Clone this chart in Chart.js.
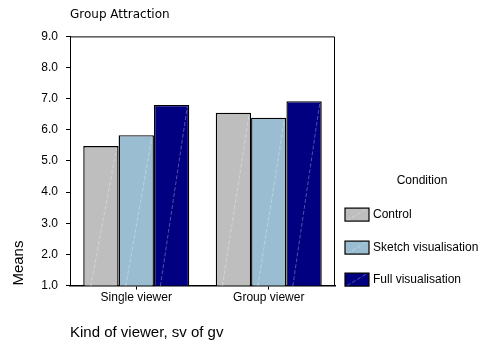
<!DOCTYPE html>
<html>
<head>
<meta charset="utf-8">
<script src="https://cdn.jsdelivr.net/npm/chart.js@4"></script>
<style>
  html, body { margin: 0; padding: 0; background: #fff; }
  #wrap { width: 481px; height: 345px; }
</style>
</head>
<body>
<div id="wrap"><canvas id="barChart"></canvas></div>
<script>
const categories = ['Single viewer', 'Group viewer'];
const conditions = ['Control', 'Sketch visualisation', 'Full visualisation'];
const controlMeans = [5.48, 6.55];
const sketchMeans = [5.83, 6.39];
const fullMeans = [6.80, 6.92];
const yTicks = [1, 2, 3, 4, 5, 6, 7, 8, 9];

const colors = ['#bebebe', '#9bbdd2', '#000080'];
const font = "'Liberation Sans', Arial, sans-serif";

// box round the plot area (top and right sides)
const frame = {
  id: 'frame',
  afterDraw(chart) {
    const a = chart.chartArea, ctx = chart.ctx;
    ctx.save();
    ctx.strokeStyle = '#000';
    ctx.lineWidth = 1;
    ctx.beginPath();
    ctx.moveTo(a.left, a.top + 0.5);
    ctx.lineTo(a.right - 0.5, a.top + 0.5);
    ctx.lineTo(a.right - 0.5, a.bottom);
    ctx.stroke();
    ctx.restore();
  }
};

// faint dashed diagonal inside each bar
function diagonal(ctx, x0, y0, x1, y1) {
  ctx.save();
  ctx.strokeStyle = 'rgba(255,255,255,0.4)';
  ctx.lineWidth = 0.8;
  ctx.setLineDash([4, 2]);
  ctx.beginPath();
  ctx.moveTo(x0, y0);
  ctx.lineTo(x1, y1);
  ctx.stroke();
  ctx.restore();
}

const hatch = {
  id: 'hatch',
  afterDatasetsDraw(chart) {
    chart.data.datasets.forEach((ds, i) => {
      chart.getDatasetMeta(i).data.forEach(bar => {
        const p = bar.getProps(['x', 'y', 'base', 'width'], true);
        diagonal(chart.ctx, p.x - p.width / 2 + 2, p.base - 1, p.x + p.width / 2 - 2, p.y + 2);
      });
    });
  }
};

// legend on the right, bottom aligned with the plot
const sideLegend = {
  id: 'sideLegend',
  afterDraw(chart) {
    const a = chart.chartArea, ctx = chart.ctx;
    ctx.save();
    ctx.fillStyle = '#000';
    ctx.font = '12px ' + font;
    ctx.textBaseline = 'middle';
    ctx.textAlign = 'center';
    ctx.fillText('Condition', a.right + 87, a.bottom - 105);
    const offsets = [-71, -38, -6];
    chart.data.datasets.forEach((ds, i) => {
      const cy = a.bottom + offsets[i];
      const bx = a.right + 10;
      ctx.fillStyle = ds.backgroundColor;
      ctx.fillRect(bx, cy - 6.5, 24, 13);
      diagonal(ctx, bx + 2, cy + 6, bx + 22, cy - 6);
      ctx.strokeStyle = '#000';
      ctx.lineWidth = 1.2;
      ctx.strokeRect(bx, cy - 6.5, 24, 13);
      ctx.fillStyle = '#000';
      ctx.textAlign = 'left';
      ctx.fillText(ds.label, a.right + 38, cy);
    });
    ctx.restore();
  }
};

const series = [controlMeans, sketchMeans, fullMeans];

new Chart(document.getElementById('barChart'), {
  type: 'bar',
  data: {
    labels: categories,
    datasets: conditions.map((name, i) => ({
      label: name,
      data: series[i],
      backgroundColor: colors[i],
      borderColor: '#000',
      borderWidth: 1.4,
      categoryPercentage: 0.8,
      barPercentage: 1.0
    }))
  },
  options: {
    responsive: true,
    maintainAspectRatio: false,
    animation: false,
    layout: { padding: { top: 6, left: 6, right: 146, bottom: 3 } },
    plugins: {
      legend: { display: false },
      tooltip: { enabled: false },
      title: {
        display: true,
        text: 'Group Attraction',
        align: 'start',
        fullSize: false,
        color: '#000',
        font: { family: "'DejaVu Sans', sans-serif", size: 12, weight: 'normal' },
        padding: { top: 2, bottom: 14 }
      }
    },
    scales: {
      x: {
        offset: true,
        grid: { display: true, drawOnChartArea: false, offset: false, tickLength: 4, color: '#000' },
        border: { display: true, color: '#000', width: 1.5 },
        ticks: { color: '#000', padding: 1, font: { family: font, size: 12 } },
        title: {
          display: true,
          text: 'Kind of viewer, sv of gv',
          align: 'start',
          color: '#000',
          font: { family: font, size: 15 },
          padding: { top: 18, bottom: 0 }
        }
      },
      y: {
        min: 1,
        max: 9,
        afterFit(scale) { scale.width = 64; },
        afterBuildTicks(scale) { scale.ticks = yTicks.map(v => ({ value: v })); },
        grid: { display: true, drawOnChartArea: false, tickLength: 4, color: '#000' },
        border: { display: true, color: '#000', width: 1 },
        ticks: {
          color: '#000',
          padding: 8,
          font: { family: font, size: 12 },
          callback: v => Number(v).toFixed(1)
        },
        title: {
          display: true,
          text: 'Means',
          align: 'start',
          color: '#000',
          font: { family: font, size: 15 },
          padding: { top: 4, bottom: 4 }
        }
      }
    }
  },
  plugins: [frame, hatch, sideLegend]
});
</script>
</body>
</html>
